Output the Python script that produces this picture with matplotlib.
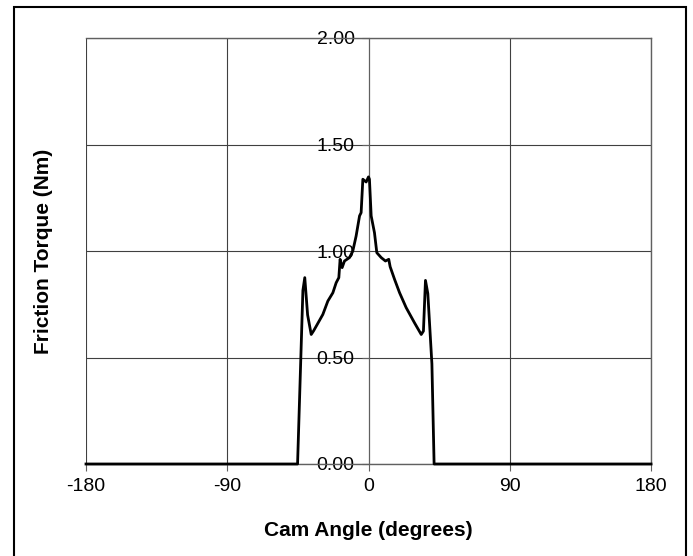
import matplotlib
matplotlib.use("Agg")
import matplotlib.pyplot as plt
from matplotlib.patches import Rectangle

plt.rcParams['font.family'] = ['Liberation Sans', 'DejaVu Sans']
plt.rcParams['axes.unicode_minus'] = False

# cam angle (degrees) vs friction torque (Nm)
angle = [-180, -45.2, -41.8, -40.6, -38.8, -36.5, -35.0, -33.3, -29.1, -25.9,
         -22.7, -20.6, -18.9, -18.1, -16.8, -15.3, -12.1, -10.0, -7.9, -5.7,
         -4.7, -3.6, -1.5, 0.0, 0.6, 1.7, 3.8, 5.3, 8.1, 10.8, 12.9, 13.8,
         16.6, 19.8, 24.0, 29.3, 33.6, 35.0, 36.3, 37.8, 40.4,
         41.8, 180]
torque = [0.0, 0.0, 0.815, 0.875, 0.70, 0.608, 0.625, 0.647, 0.702, 0.765,
          0.804, 0.851, 0.875, 0.961, 0.922, 0.953, 0.969, 1.000, 1.070, 1.165,
          1.180, 1.337, 1.324, 1.348, 1.337, 1.165, 1.086, 0.992, 0.969, 0.953,
          0.961, 0.926, 0.867, 0.804, 0.734, 0.663, 0.608, 0.624, 0.862,
          0.800, 0.470, 0.0, 0.0]

xticks = [-180, -90, 0, 90, 180]
yticks = [0.0, 0.5, 1.0, 1.5, 2.0]

fig = plt.figure(figsize=(6.93, 5.56), dpi=100)
ax = fig.add_axes([86 / 693, 1 - 464 / 556, 565 / 693, 426 / 556])

ax.plot(angle, torque, color='black', lw=2.0, zorder=5, clip_on=False)

ax.set_xlim(-180, 180)
ax.set_ylim(0, 2.0)
ax.set_xticks(xticks)
ax.set_yticks(yticks)
ax.set_yticklabels(['%.2f' % v for v in yticks])
ax.grid(True, color='#404040', lw=0.8)

for s in ['top', 'right', 'bottom']:
    ax.spines[s].set_color('#606060')
    ax.spines[s].set_linewidth(1.0)
ax.spines['left'].set_position(('data', 0))
ax.spines['left'].set_color('#606060')
ax.spines['left'].set_linewidth(0.8)
# frame on the left edge of the plot area
ax.axvline(-180, color='#404040', lw=1.2)

ax.tick_params(axis='both', direction='out', length=5, width=0.8,
               color='#606060', labelsize=14)
ax.tick_params(axis='x', pad=5)
ax.tick_params(axis='y', pad=5)

fig.text(368 / 693, 1 - 530 / 556, 'Cam Angle (degrees)', ha='center',
         va='center', fontsize=15, fontweight='bold')
fig.text(44 / 693, 1 - 251 / 556, 'Friction Torque (Nm)', ha='center',
         va='center', rotation=90, fontsize=15, fontweight='bold')

# chart border, its bottom edge runs off the picture
fig.patches.append(Rectangle((14 / 693, -0.02), 672 / 693, 1 - 7 / 556 + 0.02,
                             transform=fig.transFigure, fill=False,
                             edgecolor='black', lw=1.5))

fig.savefig('out.png', dpi=100)
